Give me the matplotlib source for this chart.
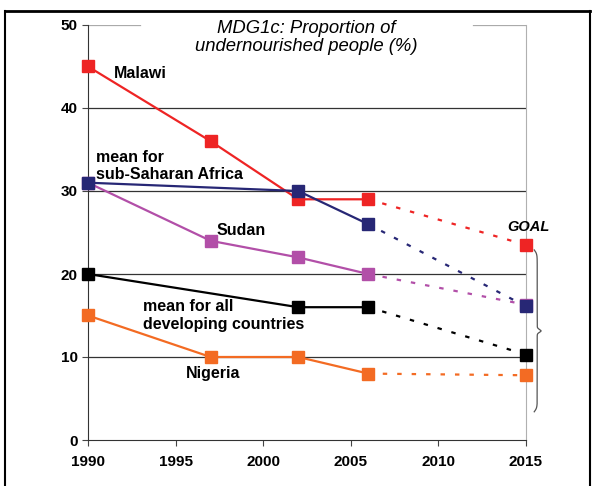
import numpy as np
import matplotlib.pyplot as plt
from matplotlib.lines import Line2D

plt.rcParams['font.family'] = ['Liberation Sans', 'DejaVu Sans']

# data
years_obs = [1990, 1997, 2002, 2006]
malawi = [45, 36, 29, 29]
ssa_years = [1990, 2002, 2006]
ssa = [31, 30, 26]
sudan = [31, 24, 22, 20]
dev_years = [1990, 2002, 2006]
developing = [20, 16, 16]
nigeria = [15, 10, 10, 8]

goal_year = 2015
goals = {'malawi': 23.5, 'ssa': 16.1, 'sudan': 16.3, 'developing': 10.3, 'nigeria': 7.8}

colors = {
    'malawi': '#ee2424',
    'ssa': '#272775',
    'sudan': '#b24fa8',
    'developing': '#000000',
    'nigeria': '#f36b23',
}

fig = plt.figure(figsize=(5.97, 4.86), dpi=100)
ax = fig.add_axes([88 / 597, 46 / 486, 438 / 597, 415 / 486])

# order matters for which goal marker sits on top
series = [
    ('sudan', years_obs, sudan, 4),
    ('malawi', years_obs, malawi, 5),
    ('ssa', ssa_years, ssa, 6),
    ('developing', dev_years, developing, 5),
    ('nigeria', years_obs, nigeria, 5),
]

for key, xs, ys, z in series:
    c = colors[key]
    # projection to the goal
    ax.plot([xs[-1], goal_year], [ys[-1], goals[key]], color=c, lw=1.6,
            dashes=(2, 4.5), zorder=3, clip_on=False)
    ax.plot(xs, ys, color=c, lw=1.6, marker='s', markersize=8,
            markeredgecolor=c, zorder=z, clip_on=False)
    ax.plot([goal_year], [goals[key]], color=c, marker='s', markersize=8,
            ls='none', zorder=z, clip_on=False)

ax.set_xlim(1990, 2015)
ax.set_ylim(0, 50)
ax.set_xticks(range(1990, 2016, 5))
ax.set_yticks(range(0, 51, 10))
ax.tick_params(axis='both', labelsize=11, length=4, color='#444444')
for lab in ax.get_xticklabels() + ax.get_yticklabels():
    lab.set_fontweight('bold')
ax.tick_params(axis='x', pad=7)

for y in [10, 20, 30, 40]:
    ax.axhline(y, color='#333333', lw=0.9, zorder=1)
# top gridline is interrupted by the title
ax.axhline(50, xmin=0, xmax=0.119, color='#aaaaaa', lw=0.9, zorder=1)
ax.axhline(50, xmin=0.879, xmax=1, color='#aaaaaa', lw=0.9, zorder=1)

ax.spines['top'].set_visible(False)
ax.spines['right'].set_color('#b0b0b0')
ax.spines['left'].set_color('#333333')
ax.spines['bottom'].set_color('#333333')

ax.text(2002.45, 48.5, 'MDG1c: Proportion of\nundernourished people (%)',
        ha='center', va='center', style='italic', fontsize=13.3, linespacing=1.05,
        zorder=6)

lab_kw = dict(fontsize=11.5, fontweight='bold', va='center', zorder=6)
ax.text(1991.45, 44.2, 'Malawi', **lab_kw)
ax.text(1990.45, 33.0, 'mean for\nsub-Saharan Africa', linespacing=1.2, **lab_kw)
ax.text(1997.35, 25.2, 'Sudan', **lab_kw)
ax.text(1993.15, 15.0, 'mean for all\ndeveloping countries', linespacing=1.2, **lab_kw)
ax.text(1995.6, 8.0, 'Nigeria', **lab_kw)
ax.text(2015.15, 25.7, 'GOAL', ha='center', va='center', style='italic',
        fontsize=10.5, fontweight='bold', zorder=6)

# curly brace right of the goal markers
t = np.linspace(0, 1, 400)
s = 1 - np.abs(2 * t - 1)          # 0 at the ends, 1 at the middle
bx = 2015.47 + 0.17 * np.tanh(s / 0.05) + 0.22 * np.exp(-((1 - s) / 0.025) ** 2)
by = 22.9 - t * (22.9 - 3.4)
ax.plot(bx, by, color='#555555', lw=0.9, clip_on=False)

# figure frame
fig.add_artist(Line2D([5 / 597, 5 / 597], [0, 1 - 11 / 486], color='black', lw=1.5))
fig.add_artist(Line2D([590 / 597, 590 / 597], [0, 1 - 11 / 486], color='black', lw=1.5))
fig.add_artist(Line2D([5 / 597, 590 / 597], [1 - 11 / 486, 1 - 11 / 486], color='black', lw=2))

fig.savefig('out.png', dpi=100)
